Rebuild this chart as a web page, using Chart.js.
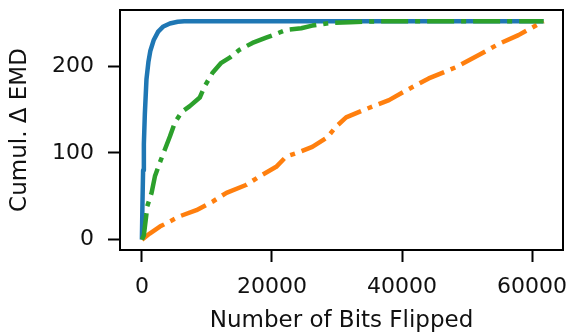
<!DOCTYPE html>
<html>
<head>
<meta charset="utf-8">
<script src="https://cdn.jsdelivr.net/npm/chart.js@4/dist/chart.umd.min.js"></script>
<style>
  html, body { margin: 0; padding: 0; background: #fff; }
  canvas { display: block; }
</style>
</head>
<body>
<canvas id="c" width="572" height="335"></canvas>
<script>
// valores
const blueX = [0, 80, 180, 300, 450, 700, 1000, 1300, 1800, 2500, 3300, 4300, 5500, 6500, 61760];
const blueY = [0, 40, 80, 110, 145, 185, 205, 218, 230, 240, 246, 249.5, 251.5, 252, 252];

const orangeX = [0, 1200, 2760, 5830, 8380, 10900, 13000, 16000, 18100, 20650, 22200, 24200, 26200, 28500, 29800, 31400, 33900, 38000, 40600, 44100, 48300, 51800, 54900, 57900, 61760];
const orangeY = [0, 7, 15, 27, 34, 44, 54, 63, 73, 84, 96, 101, 107, 118, 130, 141, 149, 161, 172, 186, 199, 213, 226, 236, 252];

const greenX = [0, 300, 700, 800, 1490, 2000, 2760, 3530, 4300, 5060, 6080, 7360, 8900, 9650, 10900, 12200, 13500, 15000, 17000, 19100, 22200, 24500, 26200, 28800, 32000, 36500, 61760];
const greenY = [0, 5, 30, 38, 54, 73, 89, 104, 119, 135, 147, 154, 164, 177, 193, 204, 210, 219, 227, 233, 242, 244, 247, 250, 251, 252, 252];

const xTicks = [0, 20000, 40000, 60000];
const yTicks = [0, 100, 200];

const pts = (xs, ys) => xs.map((x, i) => ({ x, y: ys[i] }));
const FONT = "'DejaVu Sans', sans-serif";

// marco completo del área (los cuatro lados)
const frame = {
  id: 'frame',
  afterDraw(chart) {
    const { ctx, chartArea: a } = chart;
    ctx.save();
    ctx.strokeStyle = '#000';
    ctx.lineWidth = 2;
    ctx.strokeRect(a.left, a.top, a.right - a.left, a.bottom - a.top);
    ctx.restore();
  },
};

const line = (data, color, dash, order) => ({
  data, borderColor: color, borderWidth: 4.5, borderDash: dash,
  borderCapStyle: 'butt', borderJoinStyle: 'round',
  pointRadius: 0, tension: 0, fill: false, order,
});

const DASHDOT = [27, 7, 5, 7];

new Chart(document.getElementById('c'), {
  type: 'line',
  data: {
    datasets: [
      line(pts(blueX, blueY), '#1f77b4', [], 3),
      line(pts(orangeX, orangeY), '#ff7f0e', DASHDOT, 2),
      line(pts(greenX, greenY), '#2ca02c', DASHDOT, 1),
    ],
  },
  options: {
    responsive: false,
    animation: false,
    layout: { padding: { top: 10, right: 9, left: 0, bottom: 0 } },
    plugins: { legend: { display: false }, tooltip: { enabled: false } },
    scales: {
      x: {
        type: 'linear', min: -3370, max: 64750,
        afterBuildTicks: (s) => { s.ticks = xTicks.map((v) => ({ value: v })); },
        afterFit: (s) => { s.height = 85; s.paddingLeft = 0; s.paddingRight = 0; },
        grid: { drawOnChartArea: false, drawTicks: true, tickLength: 12, tickWidth: 2, tickColor: '#000' },
        border: { display: false },
        ticks: { color: '#111', padding: 12, maxRotation: 0, font: { family: FONT, size: 22 }, callback: (v) => String(v) },
        title: { display: true, text: 'Number of Bits Flipped', color: '#111', padding: { top: 0, bottom: 0 }, font: { family: FONT, size: 23 } },
      },
      y: {
        type: 'linear', min: -12, max: 265,
        afterBuildTicks: (s) => { s.ticks = yTicks.map((v) => ({ value: v })); },
        afterFit: (s) => { s.width = 120; s.paddingTop = 0; s.paddingBottom = 0; },
        grid: { drawOnChartArea: false, drawTicks: true, tickLength: 12, tickWidth: 2, tickColor: '#000' },
        border: { display: false },
        ticks: { color: '#111', padding: 14, font: { family: FONT, size: 22 }, callback: (v) => String(v) },
        title: { display: true, text: 'Cumul. Δ EMD', color: '#111', padding: { top: 6, bottom: 0 }, font: { family: FONT, size: 23 } },
      },
    },
  },
  plugins: [frame],
});
</script>
</body>
</html>
